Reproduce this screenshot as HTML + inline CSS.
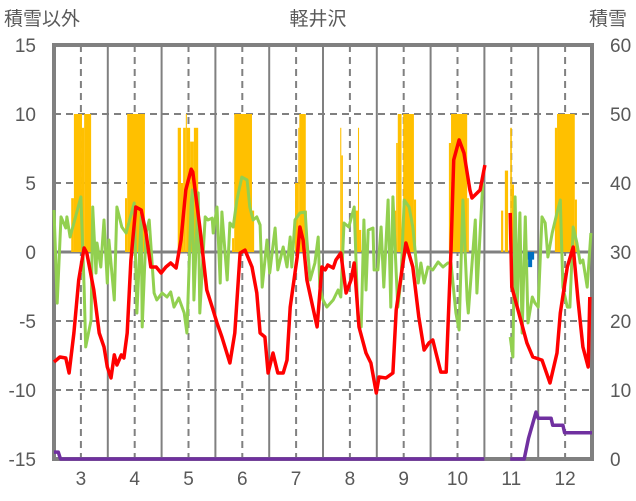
<!DOCTYPE html>
<html><head><meta charset="utf-8"><style>
body{margin:0;background:#fff;}
svg{display:block;font-family:"Liberation Sans","Noto Sans CJK JP",sans-serif;}
</style></head><body>
<svg id="chart" width="636" height="501" viewBox="0 0 636 501" xmlns="http://www.w3.org/2000/svg">
<text x="4" y="25" font-size="19" fill="#595959">積雪以外</text>
<text x="318" y="25" font-size="19" fill="#595959" text-anchor="middle">軽井沢</text>
<text x="589" y="25" font-size="19" fill="#595959">積雪</text>
<g id="grid"></g><g id="bars"></g><g id="axes"></g><g id="lines"></g>
</svg>
<script>
const monthTicks=[3,4,5,6,7,8,9,10,11,12];
const leftTicks=[15,10,5,0,-5,-10,-15];
const rightTicks=[60,50,40,30,20,10,0];
const redX=[2.50,2.61,2.72,2.78,2.87,2.96,3.06,3.11,3.24,3.34,3.43,3.49,3.56,3.62,3.67,3.75,3.80,3.86,3.93,4.02,4.12,4.21,4.30,4.40,4.49,4.58,4.67,4.77,4.86,4.95,5.05,5.08,5.21,5.34,5.44,5.53,5.62,5.77,5.86,5.96,6.05,6.18,6.27,6.33,6.42,6.48,6.57,6.66,6.76,6.83,6.89,7.02,7.07,7.13,7.20,7.31,7.39,7.48,7.54,7.59,7.69,7.74,7.83,7.93,8.02,8.08,8.17,8.30,8.39,8.49,8.54,8.67,8.80,8.86,9.04,9.17,9.28,9.38,9.47,9.54,9.60,9.69,9.79,9.88,9.93,10.03,10.12,10.23,10.27,10.42,10.51,null,10.98,11.01,11.16,11.29,11.40,11.57,11.72,11.85,11.91,12.04,12.15,12.24,12.33,12.43,12.46];
const redV=[-7.97,-7.61,-7.68,-8.77,-5.87,-2.03,0.29,-0.07,-2.75,-5.87,-6.88,-8.33,-9.13,-7.46,-8.19,-7.46,-7.68,-5.87,-0.58,3.26,3.04,1.38,-1.09,-1.09,-1.52,-1.09,-0.80,-1.16,0.87,4.49,6.0,5.8,1.81,-2.75,-3.99,-5.14,-6.16,-8.04,-5.87,-0.07,0.14,-1.09,-2.97,-5.87,-6.16,-8.77,-7.32,-8.77,-8.77,-7.83,-3.99,-0.36,1.81,0.87,-2.03,-3.99,-5.43,-1.09,-1.30,-0.94,-1.16,-0.58,-0.07,-2.97,-2.03,-0.80,-5.43,-7.32,-8.04,-10.22,-9.06,-9.13,-8.77,-4.20,0.65,-1.09,-4.71,-7.10,-6.59,-6.38,-7.32,-8.70,-8.70,0.14,6.67,8.12,7.17,4.49,3.91,4.49,6.30,null,2.83,-2.54,-4.71,-6.59,-7.61,-7.83,-9.49,-7.32,-4.42,-1.09,0.36,-3.48,-6.88,-8.33,-3.26];
const greenX=[2.50,2.56,2.63,2.72,2.74,2.80,2.87,3.00,3.06,3.09,3.19,3.22,3.28,3.30,3.37,3.43,3.49,3.52,3.62,3.67,3.76,3.84,3.89,3.99,4.04,4.12,4.14,4.21,4.27,4.36,4.41,4.51,4.60,4.67,4.73,4.82,4.92,4.97,5.05,5.07,5.10,5.18,5.21,5.31,5.36,5.44,5.46,5.53,5.59,5.62,5.72,5.77,5.83,5.90,5.99,6.09,6.14,6.20,6.27,6.33,6.37,6.46,6.51,6.61,6.66,6.76,6.83,6.89,6.92,6.98,7.07,7.17,7.20,7.26,7.35,7.41,7.44,7.50,7.57,7.69,7.78,7.83,7.89,7.98,8.08,8.15,8.21,8.26,8.30,8.34,8.43,8.45,8.52,8.58,8.63,8.71,8.76,8.80,8.86,8.89,8.95,9.01,9.10,9.17,9.27,9.32,9.38,9.45,9.54,9.64,9.73,9.82,9.88,9.97,10.03,10.10,10.18,10.20,10.33,10.36,10.42,10.47,null,10.98,11.03,11.07,11.11,11.16,11.20,11.26,11.31,11.39,11.44,11.50,11.57,11.63,11.68,11.76,11.85,11.91,11.96,12.04,12.09,12.15,12.22,12.28,12.33,12.41,12.48];
const greenV=[3.04,-3.70,2.54,1.74,2.54,1.09,2.10,3.99,-2.54,-6.88,-4.93,3.26,-1.52,0.65,-1.09,2.32,-2.25,0.87,-3.48,3.26,1.81,1.38,2.10,3.55,-4.42,2.54,-5.43,1.38,2.32,-2.97,-3.48,-2.97,-3.26,-2.90,-3.99,-3.33,-4.42,-5.87,3.55,4.49,-3.48,4.28,-4.42,2.54,2.32,2.46,1.38,3.26,-2.25,2.90,-2.03,2.10,1.81,3.77,5.43,5.22,3.26,2.32,2.54,1.96,-2.54,0.87,-1.52,1.74,-1.30,0.36,-1.09,1.09,-1.09,2.32,2.83,2.90,0.87,-2.03,-0.80,1.09,-2.54,-3.48,-3.99,-3.48,-2.75,-3.26,2.10,1.81,3.26,-4.93,-5.43,2.32,-2.75,1.59,1.74,-1.30,-1.30,1.81,-2.54,3.77,-3.99,3.99,-1.52,-3.99,-2.03,3.77,3.26,1.81,-2.25,-0.80,-2.25,-1.09,-1.30,-0.72,-1.09,-0.80,-0.80,-4.42,-5.65,3.77,-3.48,-4.42,2.32,-2.97,1.38,5.00,null,-6.16,-7.61,3.99,-3.99,2.83,-5.87,2.54,-5.14,-3.26,-3.70,-3.99,2.54,2.10,-0.36,1.38,2.83,3.77,-2.54,-3.99,-3.99,1.81,0.65,-0.80,-0.58,-2.54,1.38];
const barStart=[2.82,2.87,3.02,3.06,3.82,3.86,4.80,4.86,4.90,4.95,4.97,5.03,5.10,5.81,5.85,6.18,6.98,7.04,7.06,7.18,7.82,7.84,8.10,8.15,8.17,8.82,8.86,8.89,8.99,9.19,9.84,9.88,10.18,10.81,10.88,10.98,11.01,11.81,11.85,12.18];
const barEnd=[2.87,3.02,3.06,3.19,3.86,4.19,4.86,4.90,4.95,4.97,5.03,5.10,5.18,5.85,6.18,6.22,7.04,7.06,7.18,7.20,7.84,7.87,8.15,8.17,8.21,8.86,8.89,8.96,9.19,9.23,9.88,10.18,10.21,10.85,10.94,11.01,11.05,11.85,12.18,12.22];
const barV=[3.9,10,9,10,3.9,10,9,5,9,10,9,8,9,1,10,3,5,9,10,3,9,7,3,9,1.6,3,7.9,10,10,3.8,7.9,10,3.9,3,5.9,9,4.9,9,10,3.8];
const blueX=[11.35];
const blueV=[-1.1];
const purpleX=[2.50,2.58,2.62,10.50,null,10.98,11.24,11.32,11.46,11.50,11.74,11.77,11.96,11.99,12.50];
const purpleV=[1,1,0,0,null,0,0,3,6.8,5.9,5.9,4.9,4.9,3.8,3.8];

const NS="http://www.w3.org/2000/svg";
const L=54,R=592,T=45,B=459;
const xs=m=>L+(m-2.5)/10*(R-L);
const yl=v=>T+(15-v)/30*(B-T);
const yr=v=>T+(60-v)/60*(B-T);
function mk(tag,attrs,parent){const e=document.createElementNS(NS,tag);for(const k in attrs)e.setAttribute(k,attrs[k]);parent.appendChild(e);return e;}
const grid=document.getElementById('grid'),bars=document.getElementById('bars'),lines=document.getElementById('lines'),axes=document.getElementById('axes');
leftTicks.forEach(v=>{
  if(v===15||v===-15||v===0)return;
  const g=mk('line',{x1:L,x2:R,y1:yl(v),y2:yl(v),stroke:'#808080','stroke-width':2,'stroke-dasharray':'7,5'},grid);
  
  
});
monthTicks.forEach(m=>{
  const d=mk('line',{x1:xs(m),x2:xs(m),y1:T,y2:B,stroke:'#808080','stroke-width':2,'stroke-dasharray':'7,5'},grid);
  
  
  if(m<12){
    const s=mk('line',{x1:xs(m+0.5),x2:xs(m+0.5),y1:T,y2:B,stroke:'#808080','stroke-width':2},grid);
    
    
  }
});
barV.forEach((v,i)=>{
  const r=mk('rect',{x:xs(barStart[i]),y:yl(v),width:Math.max(1,xs(barEnd[i])-xs(barStart[i])),height:yl(0)-yl(v),fill:'#FFC000'},bars);
  
  
});
blueV.forEach((v,i)=>{
  const cx=xs(blueX[i]);
  const r=mk('path',{d:`M${cx-4},${yl(0)}H${cx+4}V${yl(v*0.5)}H${cx+2}V${yl(v)}H${cx-2}V${yl(v*0.5)}H${cx-4}Z`,fill:'#0070C0'},bars);
  
  
});
const z=mk('line',{x1:L,x2:R,y1:yl(0),y2:yl(0),stroke:'#808080','stroke-width':3},grid);


function path(X,V,sc){let d='',pen=false;X.forEach((x,i)=>{if(x===null||V[i]===null){pen=false;return;}d+=(pen?'L':'M')+xs(x).toFixed(1)+','+sc(V[i]).toFixed(1);pen=true;});return d;}
const pg=mk('path',{d:path(greenX,greenV,yl),fill:'none',stroke:'#92D050','stroke-width':3,'stroke-linejoin':'round'},lines);


const pr=mk('path',{d:path(redX,redV,yl),fill:'none',stroke:'#FF0000','stroke-width':3.5,'stroke-linejoin':'round'},lines);


const pp=mk('path',{d:path(purpleX,purpleV,yr),fill:'none',stroke:'#7030A0','stroke-width':3.5,'stroke-linejoin':'round'},lines);


const f=mk('rect',{x:L,y:T,width:R-L,height:B-T,fill:'none',stroke:'#808080','stroke-width':4},axes);


leftTicks.forEach(v=>{
  const t=mk('text',{x:36,y:yl(v)+7,'font-size':19,fill:'#595959','text-anchor':'end'},axes);t.textContent=v;
  
  
});
rightTicks.forEach(v=>{
  const t=mk('text',{x:610,y:yr(v)+7,'font-size':19,fill:'#595959'},axes);t.textContent=v;
  
  
});
monthTicks.forEach(m=>{
  const t=mk('text',{x:xs(m),y:485,'font-size':19,fill:'#595959','text-anchor':'middle'},axes);t.textContent=m;
  
  
});
</script>
</body></html>
